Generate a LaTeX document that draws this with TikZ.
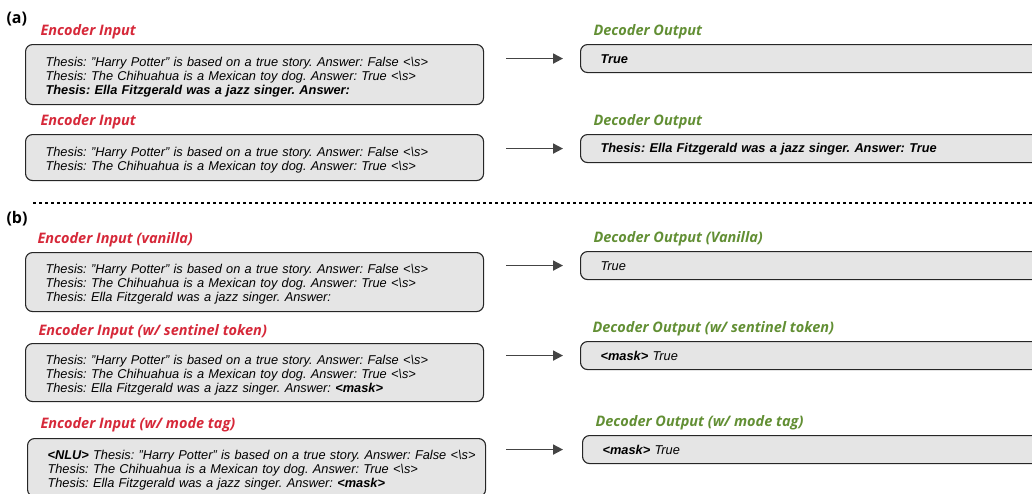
\documentclass[tikz,border=0pt]{standalone}
\usepackage{fontspec}
\setmainfont{Liberation Sans}
\newfontfamily\lblfont{Open Sans}
\usetikzlibrary{arrows.meta}
\definecolor{encred}{RGB}{214,40,57}
\definecolor{decgreen}{RGB}{98,143,52}
\definecolor{boxgray}{RGB}{229,229,229}
\definecolor{arrgray}{RGB}{68,68,68}
\newcommand{\eos}{<\textbackslash s>}
\newcommand{\mtok}{\textbf{<mask>}}

\tikzset{
  box/.style={draw=black!85, line width=1.1pt, fill=boxgray, rounded corners=7pt,
    inner xsep=20pt, inner ysep=0pt, align=left, anchor=north west,
    font=\frenchspacing\fontsize{12.8}{14}\selectfont\itshape},
  encbox/.style={box, text width=418pt, minimum height=#1,
    execute at begin node=\rule{0pt}{14pt}},
  decbox/.style={box, text width=440pt, minimum height=28pt,
    execute at begin node=\rule{0pt}{11pt}},
  enclbl/.style={anchor=west, text=encred, font=\lblfont\fontsize{14.5}{16}\selectfont\bfseries\itshape},
  declbl/.style={anchor=west, text=decgreen, font=\lblfont\fontsize{14.5}{16}\selectfont\bfseries\itshape},
  partlbl/.style={anchor=west, font=\lblfont\fontsize{16}{18}\selectfont\bfseries},
  arr/.style={draw=arrgray, line width=1.8pt, -{Triangle[length=10pt,width=10pt]}}
}

\begin{document}
\begin{tikzpicture}[x=1pt,y=-1pt]
\clip (0,0) rectangle (1032,493);
% (a)
\node[partlbl] (pa) at (3,19) {(a)};
\node[enclbl] (el1) at (37,32) {Encoder Input};
\node[encbox=60pt] (enc1) at (25,44) {Thesis: "Harry Potter" is based on a true story. Answer: False \eos\\
Thesis: The Chihuahua is a Mexican toy dog. Answer: True \eos\\
\textbf{Thesis: Ella Fitzgerald was a jazz singer. Answer:}};
\node[declbl] (dl1) at (590,32) {Decoder Output};
\node[decbox] (dec1) at (580,44) {\textbf{True}};
\draw[arr] ([xshift=-74pt]dec1.west) -- ([xshift=-17pt]dec1.west);

\node[enclbl] (el2) at (37,122) {Encoder Input};
\node[encbox=46pt] (enc2) at (25,134) {Thesis: "Harry Potter" is based on a true story. Answer: False \eos\\
Thesis: The Chihuahua is a Mexican toy dog. Answer: True \eos};
\node[declbl] (dl2) at (590,122) {Decoder Output};
\node[decbox] (dec2) at (580,134) {\textbf{Thesis: Ella Fitzgerald was a jazz singer. Answer: True}};
\draw[arr] ([xshift=-74pt]dec2.west) -- ([xshift=-17pt]dec2.west);

% separator
\draw[line width=1.3pt, dash pattern=on 3pt off 3pt] (33,203) -- (1032,203);

% (b)
\node[partlbl] (pb) at (3,219) {(b)};
\node[enclbl] (el3) at (34,240) {Encoder Input (vanilla)};
\node[encbox=59pt] (enc3) at (25,252) {Thesis: "Harry Potter" is based on a true story. Answer: False \eos\\
Thesis: The Chihuahua is a Mexican toy dog. Answer: True \eos\\
Thesis: Ella Fitzgerald was a jazz singer. Answer:};
\node[declbl] (dl3) at (590,239) {Decoder Output (Vanilla)};
\node[decbox] (dec3) at (580,251) {True};
\draw[arr] ([xshift=-74pt]dec3.west) -- ([xshift=-17pt]dec3.west);

\node[enclbl] (el4) at (35,332) {Encoder Input (w/ sentinel token)};
\node[encbox=58pt] (enc4) at (25,343) {Thesis: "Harry Potter" is based on a true story. Answer: False \eos\\
Thesis: The Chihuahua is a Mexican toy dog. Answer: True \eos\\
Thesis: Ella Fitzgerald was a jazz singer. Answer: \mtok};
\node[declbl] (dl4) at (589,329) {Decoder Output (w/ sentinel token)};
\node[decbox] (dec4) at (580,341) {\mtok{} True};
\draw[arr] ([xshift=-74pt]dec4.west) -- ([xshift=-17pt]dec4.west);

\node[enclbl] (el5) at (37,425) {Encoder Input (w/ mode tag)};
\node[encbox=58pt] (enc5) at (27,438) {\mbox{\textbf{<NLU>} Thesis: "Harry Potter" is based on a true story. Answer: False \eos}\\
Thesis: The Chihuahua is a Mexican toy dog. Answer: True \eos\\
Thesis: Ella Fitzgerald was a jazz singer. Answer: \mtok};
\node[declbl] (dl5) at (592,423) {Decoder Output (w/ mode tag)};
\node[decbox] (dec5) at (582,435) {\mtok{} True};
\draw[arr] ([xshift=-76pt]dec5.west) -- ([xshift=-19pt]dec5.west);
\end{tikzpicture}
\end{document}
